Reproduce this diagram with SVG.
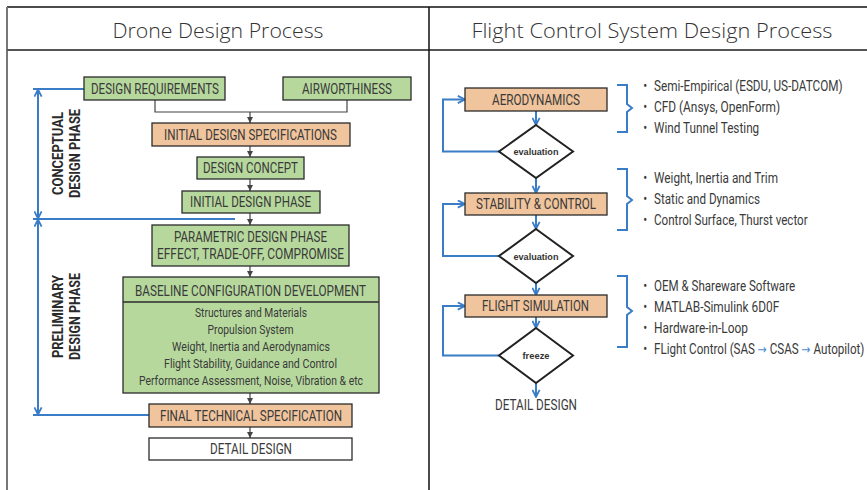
<svg xmlns="http://www.w3.org/2000/svg" width="867" height="490" viewBox="0 0 867 490">
<style>
.t{font-family:Roboto,"Liberation Sans",sans-serif;fill:#3a3a3a;text-anchor:middle}
.bx{font-size:14px}
.sm{font-size:12.5px}
.title{font-family:"Open Sans","Liberation Sans",sans-serif;font-weight:300;font-size:21px;fill:#333;text-anchor:middle}
.ph{font-family:Roboto,"Liberation Sans",sans-serif;font-weight:bold;font-size:15px;fill:#2a2a2a;text-anchor:middle}
.g{fill:#b6d89d;stroke:#2b2b2b;stroke-width:1.3}
.o{fill:#f0c49c;stroke:#2b2b2b;stroke-width:1.3}
.w{fill:#fff;stroke:#2b2b2b;stroke-width:1.3}
.dk{fill:none;stroke:#444;stroke-width:1.2}
.bl{fill:none;stroke:#3a7cc6;stroke-width:2}
.dia{fill:#fff;stroke:#222;stroke-width:2}
.ev{font-family:"Liberation Sans",Arial,sans-serif;font-weight:bold;font-size:9.5px;fill:#333;text-anchor:middle}
.bul{font-family:Roboto,"Liberation Sans",sans-serif;font-size:14px;fill:#3a3a3a}
.arr{font-family:"DejaVu Sans",sans-serif;font-size:13px;fill:#4a8ad0}
</style>
<defs>
<marker id="ad" viewBox="0 0 10 10" refX="10" refY="5" markerWidth="6" markerHeight="6" orient="auto" markerUnits="userSpaceOnUse"><path d="M0,0 L10,5 L0,10 z" fill="#444"/></marker>
<marker id="ab" viewBox="0 0 10 10" refX="9" refY="5" markerWidth="9" markerHeight="9" orient="auto" markerUnits="userSpaceOnUse"><path d="M1,1 L9,5 L1,9" fill="none" stroke="#3a7cc6" stroke-width="2"/></marker>
</defs>
<rect width="867" height="490" fill="#fff"/>
<g id="frame">
<line x1="7" y1="7" x2="867" y2="7" stroke="#111" stroke-width="1.5"/>
<line x1="7" y1="7" x2="7" y2="490" stroke="#777" stroke-width="2"/>
<line x1="7" y1="50" x2="867" y2="50" stroke="#555" stroke-width="2"/>
<line x1="429" y1="7" x2="429" y2="490" stroke="#111" stroke-width="1.5"/>
<text class="title" x="218" y="38" textLength="211" lengthAdjust="spacingAndGlyphs">Drone Design Process</text>
<text class="title" x="652" y="38" textLength="361" lengthAdjust="spacingAndGlyphs">Flight Control System Design Process</text>
</g>
<g id="connectors">
<path class="dk" d="M155,100 V112 H347 V100"/>
<path class="dk" d="M250,112 V123" marker-end="url(#ad)"/>
<path class="dk" d="M250,146 V157" marker-end="url(#ad)"/>
<path class="dk" d="M250,179 V191" marker-end="url(#ad)"/>
<path class="dk" d="M250,213 V225" marker-end="url(#ad)"/>
<path class="dk" d="M250,266 V277" marker-end="url(#ad)"/>
<path class="dk" d="M250,393 V404" marker-end="url(#ad)"/>
<path class="dk" d="M250,427 V438" marker-end="url(#ad)"/>
<path class="bl" d="M33,89 H84"/>
<path class="bl" d="M33,219 H235"/>
<path class="bl" d="M33,415 H149"/>
<path class="bl" d="M38,150 V89.5" marker-end="url(#ab)"/>
<path class="bl" d="M38,150 V218.5" marker-end="url(#ab)"/>
<path class="bl" d="M38,320 V219.5" marker-end="url(#ab)"/>
<path class="bl" d="M38,320 V414.5" marker-end="url(#ab)"/>
<path class="bl" d="M536,111 V125" marker-end="url(#ab)"/>
<path class="bl" d="M536,178 V193" marker-end="url(#ab)"/>
<path class="bl" d="M536,215 V229" marker-end="url(#ab)"/>
<path class="bl" d="M536,283 V295" marker-end="url(#ab)"/>
<path class="bl" d="M536,317 V328" marker-end="url(#ab)"/>
<path class="bl" d="M536,383 V397" marker-end="url(#ab)"/>
<path class="bl" d="M499,151.5 H443 V99.5 H465" marker-end="url(#ab)"/>
<path class="bl" d="M499,256 H443 V204 H465" marker-end="url(#ab)"/>
<path class="bl" d="M499,355.5 H443 V306 H465" marker-end="url(#ab)"/>
<path class="bl" d="M617,85 H627 V104 L632,108 L627,112 V132 H617" stroke-width="1.6"/>
<path class="bl" d="M617,169 H627 V196 L632,200 L627,204 V230 H617" stroke-width="1.6"/>
<path class="bl" d="M617,276 H627 V307 L632,311 L627,315 V347 H617" stroke-width="1.6"/>
</g>
<g id="phase-labels">
<text class="ph" transform="translate(63,153.5) rotate(-90)" textLength="83" lengthAdjust="spacingAndGlyphs">CONCEPTUAL</text>
<text class="ph" transform="translate(80,153.5) rotate(-90)" textLength="89" lengthAdjust="spacingAndGlyphs">DESIGN PHASE</text>
<text class="ph" transform="translate(63,316.5) rotate(-90)" textLength="83" lengthAdjust="spacingAndGlyphs">PRELIMINARY</text>
<text class="ph" transform="translate(80,316.5) rotate(-90)" textLength="87" lengthAdjust="spacingAndGlyphs">DESIGN PHASE</text>
</g>
<g id="design-requirements"><rect class="g" x="84" y="77" width="141" height="23"/><text class="t bx" x="155" y="93.5" textLength="128" lengthAdjust="spacingAndGlyphs">DESIGN REQUIREMENTS</text></g>
<g id="airworthiness"><rect class="g" x="283" y="77" width="128" height="23"/><text class="t bx" x="347" y="93.5" textLength="90" lengthAdjust="spacingAndGlyphs">AIRWORTHINESS</text></g>
<g id="initial-design-specifications"><rect class="o" x="152" y="123" width="198" height="23"/><text class="t bx" x="250.5" y="139.5" textLength="173" lengthAdjust="spacingAndGlyphs">INITIAL DESIGN SPECIFICATIONS</text></g>
<g id="design-concept"><rect class="g" x="197" y="157" width="107" height="22"/><text class="t bx" x="250.5" y="173" textLength="95" lengthAdjust="spacingAndGlyphs">DESIGN CONCEPT</text></g>
<g id="initial-design-phase"><rect class="g" x="182" y="191" width="138" height="22"/><text class="t bx" x="250.5" y="207" textLength="121" lengthAdjust="spacingAndGlyphs">INITIAL DESIGN PHASE</text></g>
<g id="parametric-design-phase"><rect class="g" x="152" y="225" width="197" height="41"/><text class="t bx" x="250.5" y="242" textLength="153" lengthAdjust="spacingAndGlyphs">PARAMETRIC DESIGN PHASE</text><text class="t bx" x="250.5" y="259" textLength="187" lengthAdjust="spacingAndGlyphs">EFFECT, TRADE-OFF, COMPROMISE</text></g>
<g id="baseline-configuration"><rect class="g" x="123" y="277" width="256" height="116"/><line x1="123" y1="302" x2="379" y2="302" stroke="#2b2b2b" stroke-width="1.3"/><text class="t bx" x="250.5" y="296" textLength="231" lengthAdjust="spacingAndGlyphs">BASELINE CONFIGURATION DEVELOPMENT</text>
<text class="t sm" x="251" y="317" textLength="112" lengthAdjust="spacingAndGlyphs">Structures and Materials</text>
<text class="t sm" x="250.5" y="334" textLength="86" lengthAdjust="spacingAndGlyphs">Propulsion System</text>
<text class="t sm" x="251" y="351" textLength="158" lengthAdjust="spacingAndGlyphs">Weight, Inertia and Aerodynamics</text>
<text class="t sm" x="250.5" y="368" textLength="173" lengthAdjust="spacingAndGlyphs">Flight Stability, Guidance and Control</text>
<text class="t sm" x="251" y="385" textLength="224" lengthAdjust="spacingAndGlyphs">Performance Assessment, Noise, Vibration &amp; etc</text></g>
<g id="final-technical-specification"><rect class="o" x="149" y="404" width="203" height="23"/><text class="t bx" x="251" y="420.5" textLength="182" lengthAdjust="spacingAndGlyphs">FINAL TECHNICAL SPECIFICATION</text></g>
<g id="detail-design-left"><rect class="w" x="149" y="438" width="203" height="22"/><text class="t bx" x="251" y="454" textLength="82" lengthAdjust="spacingAndGlyphs">DETAIL DESIGN</text></g>
<g id="aerodynamics"><rect class="o" x="465" y="88" width="142" height="23"/><text class="t bx" x="536" y="104.5" textLength="88" lengthAdjust="spacingAndGlyphs">AERODYNAMICS</text></g>
<g id="evaluation-1"><polygon class="dia" points="536,125 573,151.5 536,178 499,151.5"/><text class="ev" x="536" y="155" textLength="45" lengthAdjust="spacingAndGlyphs">evaluation</text></g>
<g id="stability-control"><rect class="o" x="465" y="193" width="142" height="22"/><text class="t bx" x="536" y="209" textLength="120" lengthAdjust="spacingAndGlyphs">STABILITY &amp; CONTROL</text></g>
<g id="evaluation-2"><polygon class="dia" points="536,229 573,256 536,283 499,256"/><text class="ev" x="536" y="259.5" textLength="45" lengthAdjust="spacingAndGlyphs">evaluation</text></g>
<g id="flight-simulation"><rect class="o" x="465" y="295" width="142" height="22"/><text class="t bx" x="535.5" y="311" textLength="107" lengthAdjust="spacingAndGlyphs">FLIGHT SIMULATION</text></g>
<g id="freeze"><polygon class="dia" points="536,328 573,355.5 536,383 499,355.5"/><text class="ev" x="536" y="359" textLength="27" lengthAdjust="spacingAndGlyphs">freeze</text></g>
<g id="detail-design-right"><text class="t bx" x="536" y="410" textLength="82" lengthAdjust="spacingAndGlyphs">DETAIL DESIGN</text></g>
<g id="method-lists" transform="translate(654,0) scale(0.835,1)">
<g id="aero-methods">
<text class="bul" x="-13" y="91">•</text><text class="bul" x="0" y="91" textLength="226" lengthAdjust="spacingAndGlyphs">Semi-Empirical (ESDU, US-DATCOM)</text>
<text class="bul" x="-13" y="112">•</text><text class="bul" x="0" y="112" textLength="151" lengthAdjust="spacingAndGlyphs">CFD (Ansys, OpenForm)</text>
<text class="bul" x="-13" y="133">•</text><text class="bul" x="0" y="133" textLength="126" lengthAdjust="spacingAndGlyphs">Wind Tunnel Testing</text>
</g>
<g id="stability-methods">
<text class="bul" x="-13" y="183">•</text><text class="bul" x="0" y="183" textLength="148.5" lengthAdjust="spacingAndGlyphs">Weight, Inertia and Trim</text>
<text class="bul" x="-13" y="204">•</text><text class="bul" x="0" y="204" textLength="127" lengthAdjust="spacingAndGlyphs">Static and Dynamics</text>
<text class="bul" x="-13" y="225">•</text><text class="bul" x="0" y="225" textLength="184" lengthAdjust="spacingAndGlyphs">Control Surface, Thurst vector</text>
</g>
<g id="simulation-methods">
<text class="bul" x="-13" y="291">•</text><text class="bul" x="0" y="291" textLength="169" lengthAdjust="spacingAndGlyphs">OEM &amp; Shareware Software</text>
<text class="bul" x="-13" y="312">•</text><text class="bul" x="0" y="312" textLength="150" lengthAdjust="spacingAndGlyphs">MATLAB-Simulink 6D0F</text>
<text class="bul" x="-13" y="333">•</text><text class="bul" x="0" y="333" textLength="112.5" lengthAdjust="spacingAndGlyphs">Hardware-in-Loop</text>
<text class="bul" x="-13" y="354">•</text><text class="bul" x="0" y="354" textLength="252" lengthAdjust="spacingAndGlyphs">FLight Control (SAS <tspan class="arr">→</tspan> CSAS <tspan class="arr">→</tspan> Autopilot)</text>
</g>
</g>
</svg>
